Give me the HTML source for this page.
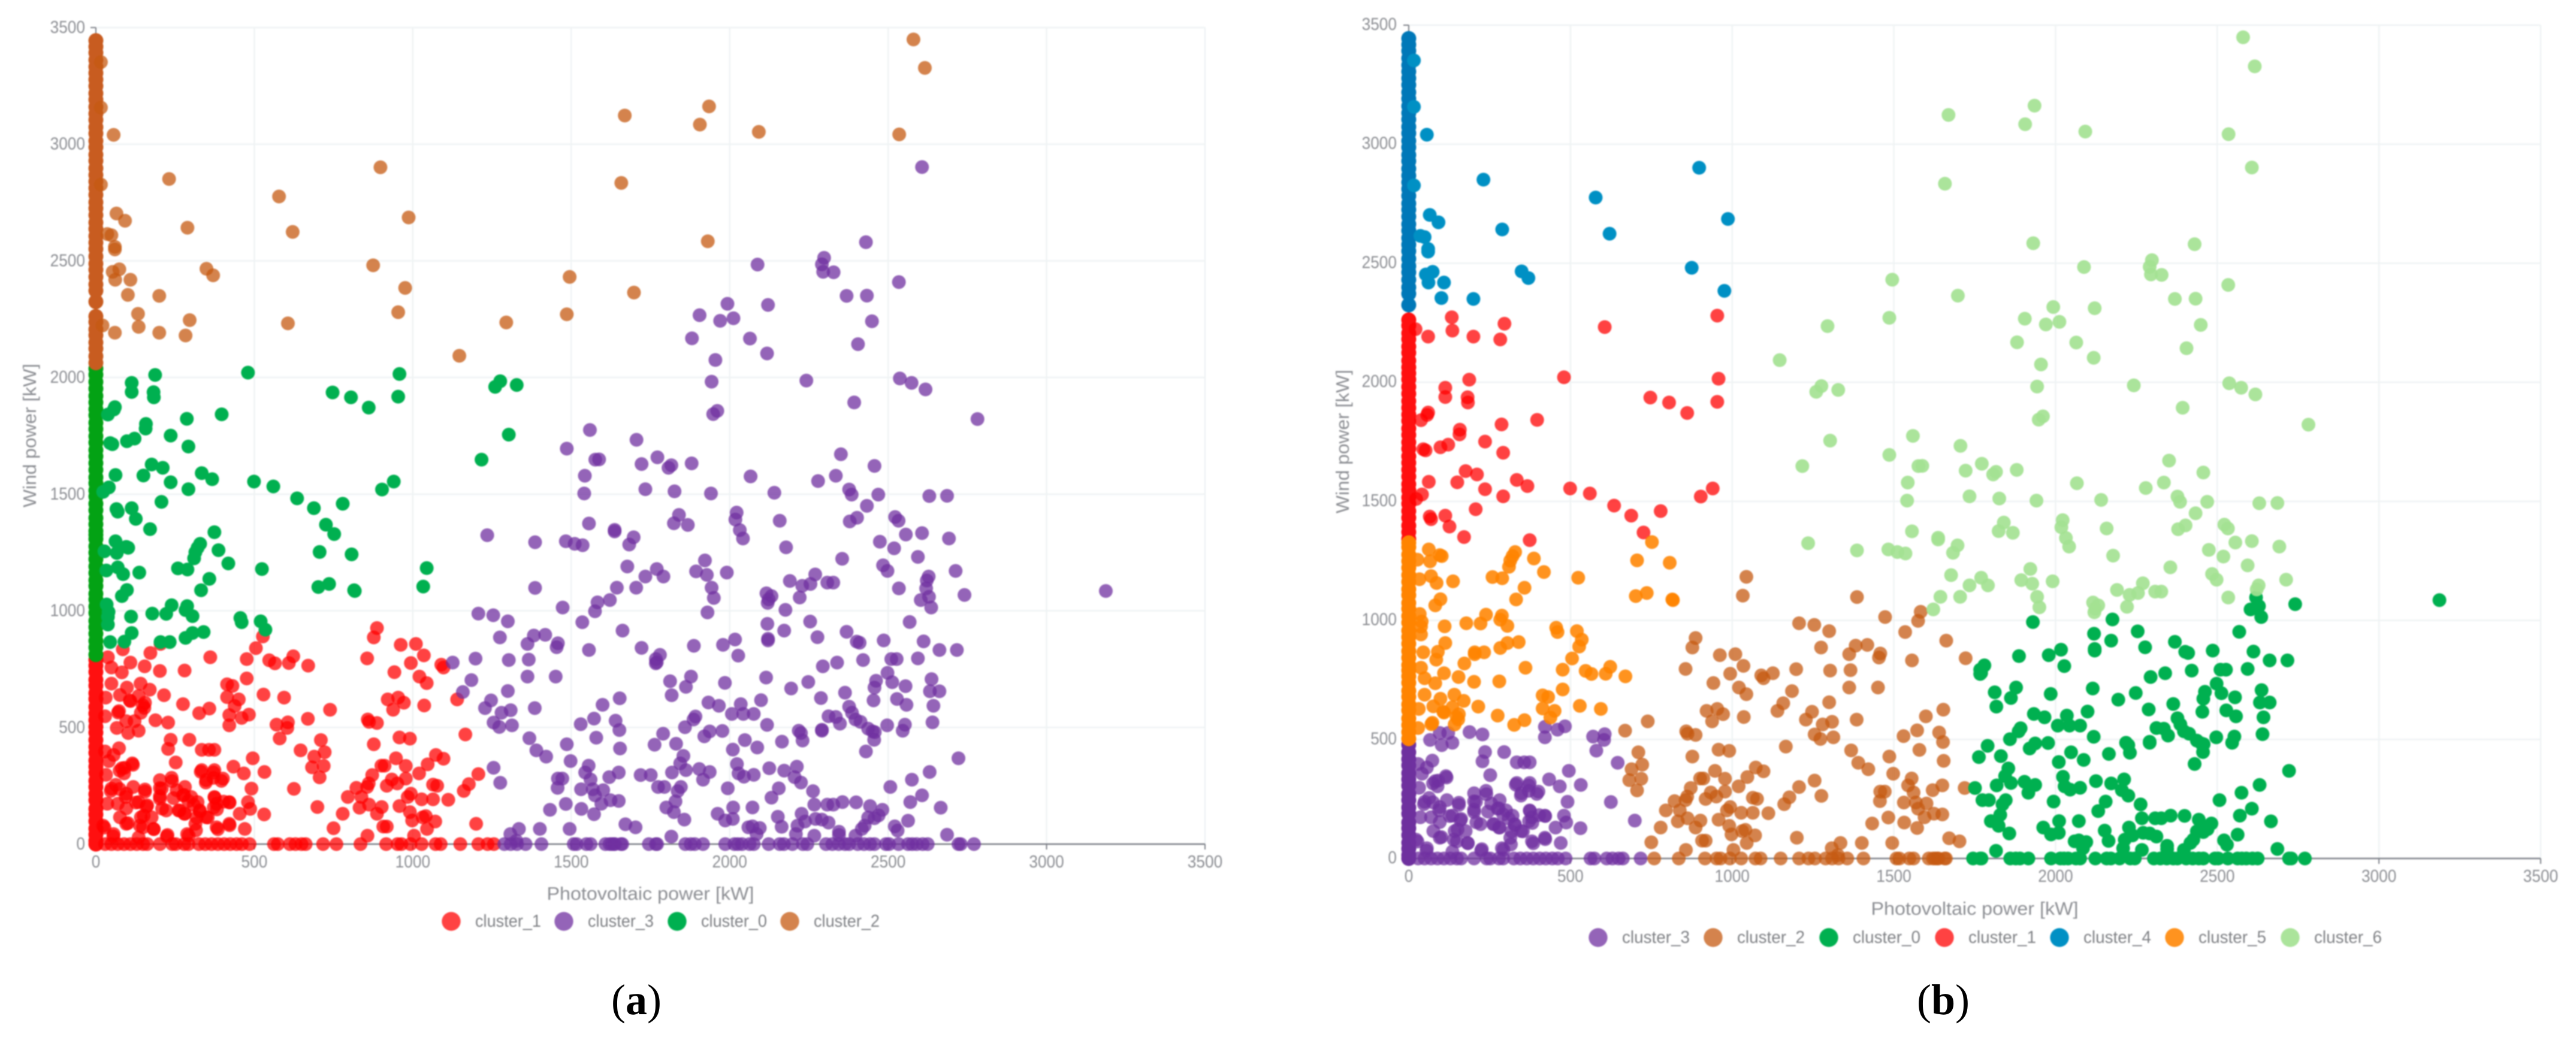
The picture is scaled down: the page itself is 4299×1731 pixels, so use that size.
<!DOCTYPE html>
<html lang="en">
<head>
<meta charset="utf-8">
<title>Cluster scatter plots: photovoltaic power vs wind power</title>
<style>
html,body{margin:0;padding:0;background:#fff;}
svg{display:block;}
text{font-family:"Liberation Sans",sans-serif;fill:#8d8f94;}
.caption{font-family:"Liberation Serif",serif;fill:#000;font-size:72px;}
</style>
</head>
<body>
<svg id="chart" xmlns="http://www.w3.org/2000/svg" width="4299" height="1731" viewBox="0 0 4299 1731">
<rect width="4299" height="1731" fill="#fff"/>
<g id="panelA" style="filter:blur(1px)"></g>
<g id="panelB" style="filter:blur(1px)"></g>
<text class="caption" x="1062" y="1693" text-anchor="middle">(<tspan font-weight="bold">a</tspan>)</text>
<text class="caption" x="3243" y="1693" text-anchor="middle">(<tspan font-weight="bold">b</tspan>)</text>
</svg>
<script>
// Tick labels
const xTicks = [0, 500, 1000, 1500, 2000, 2500, 3000, 3500];
const yTicks = [0, 500, 1000, 1500, 2000, 2500, 3000, 3500];

// Legend order per panel
const legendA = ['cluster_1', 'cluster_3', 'cluster_0', 'cluster_2'];
const legendB = ['cluster_3', 'cluster_2', 'cluster_0', 'cluster_1', 'cluster_4', 'cluster_5', 'cluster_6'];

// Points on the y axis (photovoltaic power = 0), wind power values
const stemLow = [0, 14, 41, 66, 98, 127, 151, 188, 214, 245, 271, 306, 332, 358, 391, 417, 446, 478];
const stemMidLow = [503, 531, 560, 588, 622, 647, 679, 704, 738, 765, 790];
const stemMid = [812, 843, 871, 902, 930, 957, 991, 1018, 1049, 1073, 1106, 1131, 1162, 1190, 1221, 1249, 1276, 1308, 1326];
const stemMidHigh = [1342, 1371, 1398, 1431, 1459, 1490, 1516, 1547, 1572, 1604, 1633, 1662, 1689, 1721, 1748, 1779, 1806, 1838, 1864, 1893, 1921, 1952, 1981, 2012, 2038];
const stemHigh = [2063, 2091, 2124, 2150, 2181, 2206, 2238, 2262];
const stemTop = [2325, 2372, 2399, 2431, 2462, 2488, 2519, 2551, 2578, 2606, 2637, 2664, 2696, 2725, 2751, 2783, 2812, 2840, 2868, 2897, 2929, 2955, 2987, 3014, 3046, 3073, 3104, 3131, 3160, 3191, 3218, 3249, 3277, 3305, 3332, 3361, 3392, 3418, 3444];

// Wind power vs photovoltaic power samples [pv, wind], grouped by cluster in (a) and (b)
const a1b3 = [[699,159],[625,237],[532,309],[495,368],[646,402],[570,512],[606,522],[604,498],[580,453],[236,447],[228,408],[295,447],[252,350],[334,404],[357,404],[374,404],[334,317],[374,317],[348,274],[401,281],[434,332],[467,303],[491,238],[73,411],[56,382],[29,397],[115,346],[82,325],[89,303],[202,274],[239,284],[208,238],[49,238],[96,216],[118,245],[155,234],[202,195],[255,231],[281,245],[275,209],[301,202],[321,180],[36,173],[69,173],[135,180],[162,166],[222,144],[261,144],[281,130],[328,144],[374,202],[381,173],[421,180],[480,180],[487,151],[454,130],[531,127],[76,115],[142,115],[96,87],[149,72],[182,65],[23,79],[314,87],[348,115],[381,72],[421,87],[470,65],[226,39],[56,43],[135,29],[288,43],[188,531],[228,521],[122,527],[96,527],[66,498],[135,486],[102,476],[421,509],[421,553],[460,541],[483,555],[41,356],[117,340],[91,327],[75,315],[32,297],[63,254],[47,228],[75,236],[94,202],[155,225],[240,270],[202,240],[202,205],[331,310],[371,307],[347,264],[396,271],[371,284],[245,197],[278,211],[292,185],[309,168],[209,152],[264,144],[279,130],[96,153],[127,178],[160,161],[101,90],[151,122],[176,115],[183,64],[139,79],[318,114],[328,140],[316,59],[353,114],[375,199],[422,178],[382,149],[385,64],[422,81],[372,157],[403,182],[224,33],[293,37],[55,33],[27,71],[29,0],[49,0],[69,0],[89,0],[109,0],[129,0],[149,0],[162,0],[202,0],[241,0],[252,0],[279,0],[292,0],[325,0],[345,0],[365,0],[385,0],[405,0],[424,0],[444,0],[461,0],[485,0],[562,0],[574,0],[612,0],[630,0],[649,0],[662,0],[717,0]];
const a1b5 = [[527,890],[505,840],[476,793],[547,788],[565,775],[623,805],[609,776],[670,765],[361,801],[280,744],[202,742],[154,762],[172,819],[204,858],[109,778],[85,835],[38,801],[49,757],[82,736],[49,688],[141,688],[170,662],[98,671],[215,638],[135,635],[76,639],[109,613],[155,606],[275,600],[153,584],[142,563],[73,570],[29,548],[326,561],[358,581],[414,685],[431,678],[414,630],[451,620],[438,592],[476,710],[529,641],[594,628],[31,628],[107,616],[148,595],[70,564]];
const a1b2 = [[887,926],[877,886],[856,796],[962,854],[1010,858],[1035,809],[994,776],[942,737],[1021,718],[1044,690],[1090,769],[1097,757],[921,620],[954,628],[972,606],[938,576],[1036,594],[1140,620],[858,534],[862,524],[887,519],[1166,470],[958,457],[991,452],[877,428],[1073,382],[1097,366],[1047,342],[947,368],[978,335],[901,336],[911,336],[872,296],[1020,303],[1207,300],[934,277],[978,281],[822,241],[856,245],[861,260],[1177,257],[1161,228],[918,250],[951,260],[1064,255],[1077,250],[994,216],[984,202],[1028,192],[1064,192],[1112,190],[795,202],[838,202],[832,156],[862,169],[902,159],[958,163],[779,130],[887,130],[991,137],[998,101],[1031,115],[1041,120],[1071,97],[1045,65],[907,75],[918,75],[1200,87],[750,68],[857,36],[1004,36],[710,446],[722,394],[689,375],[719,335],[682,329],[706,286],[739,576],[669,537],[759,0],[835,0],[916,0],[952,0],[964,0],[993,0],[1028,0],[1072,0],[1088,0],[1150,0],[1207,0],[1236,0],[1256,0]];
const a3b2 = [[1575,998],[1583,1036],[1473,1014],[1535,951],[1207,988],[1254,981],[1300,955],[1662,915],[1275,886],[1382,894],[1418,897],[1362,858],[1458,861],[1454,844],[1556,832],[1722,841],[1386,1098],[1126,778],[1198,795],[1303,789],[1366,791],[1362,718],[1451,718],[1185,703],[1158,652],[1300,656],[1247,616],[1228,583],[1385,583],[1309,574],[1280,563],[1599,597],[1653,625],[1572,538],[1640,529],[1530,514],[1255,521],[1273,502],[1313,509],[1652,489],[1368,454],[1579,456],[1486,428],[1390,402],[1654,410],[1421,375],[1498,356],[1255,327],[1555,336],[1544,307],[1620,287],[1650,307],[1719,296],[1276,263],[1458,281],[1472,281],[1561,277],[1457,241],[1531,235],[1568,235],[1601,231],[1575,209],[1595,173],[1624,188],[1650,185],[1433,147],[1483,172],[1532,151],[1572,128],[1671,85],[1703,72],[1335,65],[1308,43],[1401,65],[1495,65],[1327,14],[1289,0],[1309,0],[1329,0],[1356,0],[1406,0],[1508,0],[1517,0],[1548,0],[1561,0],[1608,0],[1621,0],[1628,0],[1634,0],[1638,0],[1657,0],[1661,0]];
const a3b0 = [[1763,426],[1751,296],[1767,793],[1767,775],[1774,245],[2603,1046],[2620,1096],[2629,1060],[2636,1014],[2741,1068],[3187,1085],[1930,993],[1780,811],[1770,779],[1887,850],[1979,854],[2017,877],[2027,808],[2176,1004],[2254,954],[2119,944],[2172,915],[2121,880],[2121,873],[2277,887],[2369,910],[2401,868],[2410,863],[2486,873],[2568,952],[2612,869],[2662,832],[2717,832],[2594,796],[2510,793],[2527,793],[2421,789],[2339,778],[2294,762],[1812,698],[1878,718],[1862,674],[1817,638],[1985,691],[2115,714],[2248,695],[2194,667],[2288,626],[2364,649],[2498,734],[2513,694],[2555,677],[2462,700],[2457,671],[2637,707],[2632,655],[2662,655],[2528,622],[2454,616],[2558,597],[2643,593],[2640,522],[2099,617],[1933,607],[1966,593],[2035,600],[2007,558],[2043,558],[2076,558],[2377,589],[2386,563],[2312,548],[2335,545],[2348,516],[2397,534],[2413,524],[2437,495],[2451,483],[2458,480],[2456,447],[2497,509],[2553,512],[2546,486],[1892,547],[1886,534],[1859,501],[1937,483],[1920,462],[1977,485],[2118,511],[2218,486],[2225,476],[2291,490],[2291,486],[2430,397],[1790,473],[1831,430],[2048,446],[2010,405],[2087,414],[2165,439],[2230,444],[2722,368],[1854,378],[1844,346],[1862,317],[1818,307],[1904,322],[1937,309],[1916,276],[2023,343],[2028,303],[2045,289],[2076,297],[2125,325],[2172,315],[2212,332],[2205,287],[2225,264],[2631,309],[2575,276],[2507,245],[1794,245],[1846,245],[1836,227],[1994,239],[2155,239],[2132,199],[2263,227],[2607,209],[1829,183],[1800,157],[1824,137],[1857,105],[2011,157],[2072,157],[1962,130],[1986,101],[2010,108],[2152,117],[2164,74],[2267,169],[2308,169],[2327,169],[2356,180],[2399,179],[2443,163],[2482,147],[2570,180],[2666,156],[2563,100],[2227,130],[2238,97],[2271,108],[2291,105],[2312,92],[2437,114],[2457,111],[2470,123],[2426,79],[2417,65],[2214,79],[2209,43],[2267,36],[2345,53],[2345,39],[2397,36],[2521,76],[2530,58],[2686,40],[2059,72],[2072,76],[2095,69],[2085,43],[1816,32],[1745,0],[1767,0],[1771,0],[1860,0],[1877,0],[1890,0],[1916,0],[1986,0],[2015,0],[2026,0],[2039,0],[2063,0],[2076,0],[2123,0],[2158,0],[2171,0],[2198,0],[2231,0],[2245,0],[2304,0],[2324,0],[2344,0],[2364,0],[2377,0],[2404,0],[2424,0],[2443,0],[2457,0],[2493,0],[2503,0],[2533,0],[2563,0],[2576,0],[2590,0],[2609,0],[2625,0],[2722,0],[2729,0],[2771,0]];
const a3b6 = [[2607,2902],[2430,2580],[2298,2513],[2291,2485],[2295,2453],[2328,2451],[2088,2484],[2534,2409],[2369,2350],[2433,2351],[1993,2316],[2121,2311],[1905,2267],[1970,2243],[2012,2254],[2449,2241],[1881,2168],[2064,2167],[2405,2143],[2118,2103],[1955,2075],[1943,1982],[2242,1987],[2537,1996],[2574,1977],[2618,1949],[2393,1893],[1961,1857],[1948,1843],[2782,1822],[1706,1733],[1772,1658],[1722,1629],[1816,1624],[1807,1613],[1880,1632],[1588,1649],[1734,1521],[1826,1512],[1941,1503],[2066,1576],[2141,1506],[2279,1556],[2335,1579],[2351,1671],[2457,1621],[2377,1520],[2385,1498],[2469,1498],[2630,1492],[2686,1493],[2433,1450],[1840,1411],[1824,1375],[1868,1368],[2022,1421],[2018,1391],[2158,1386],[2402,1399],[2379,1383],[2522,1402],[2533,1386],[1559,1775],[1486,1695],[1576,1648],[1543,1579],[1541,1503],[1556,1374],[1637,1347],[1637,1340],[1697,1315],[1683,1284],[1235,1324],[1386,1294],[1483,1298],[1511,1287],[1536,1281],[1677,1190],[1734,1147],[1770,1179],[1644,1099],[1705,1099],[1622,1046],[2032,1346],[2042,1310],[2178,1272],[2556,1327],[2607,1333],[2692,1310],[2474,1296],[2519,1268],[2594,1231],[2355,1223],[2713,1171],[2484,1195],[2498,1171],[1791,1147],[1922,1216],[1894,1169],[1928,1154],[1991,1164],[1943,1099],[1950,1055],[2116,1075],[2132,1063],[2123,1049],[2120,1034],[2190,1128],[2229,1107],[2255,1115],[2270,1156],[2308,1121],[2327,1121],[2221,1057],[2534,1096],[2622,1130],[2628,1147]];
const a0b5 = [[752,1329],[62,1298],[66,1248],[96,1274],[102,1270],[27,1255],[69,1186],[86,1157],[33,1173],[137,1164],[329,1287],[321,1270],[314,1251],[310,1225],[387,1260],[418,1203],[259,1182],[289,1177],[358,1137],[332,1088],[524,1179],[706,1252],[807,1242],[702,1102],[736,1115],[815,1088],[817,1085],[98,1089],[82,1063],[34,1027],[40,995],[38,974],[38,941],[111,975],[178,988],[222,987],[239,1024],[288,1020],[283,1003],[305,977],[456,969],[460,951],[520,955],[535,919],[113,905],[90,868],[45,866],[204,866],[233,866],[340,909],[305,905],[283,884]];
const a0b1 = [[187,2011],[480,2021],[958,2015],[954,1918],[747,1936],[805,1915],[861,1871],[113,1977],[113,1938],[182,1937],[183,1915],[60,1873],[57,1863],[38,1841],[287,1823],[397,1842],[158,1801],[157,1781],[236,1751],[292,1704],[122,1738],[98,1727],[45,1719],[52,1714],[176,1627],[211,1613],[62,1582],[150,1580],[236,1551],[334,1590],[367,1564],[499,1554],[560,1533],[292,1521],[41,1529],[23,1510],[940,1554],[903,1520],[635,1482],[688,1440],[779,1459],[207,1467],[113,1440],[65,1436],[69,1425],[126,1394],[171,1350],[374,1337],[726,1369]];
const a0b6 = [[1276,1984],[1260,1960],[1328,1968],[1303,1755],[1217,1648]];
const a0b2 = [[1044,1183],[1033,1104]];
const a2b4 = [[16,3352],[16,3157],[56,3040],[16,2827],[231,2851],[578,2776],[898,2901],[987,2686],[621,2624],[289,2642],[65,2703],[92,2672],[36,2615],[49,2610],[60,2560],[60,2549],[74,2464],[53,2453],[61,2419],[109,2419],[349,2466],[370,2438],[875,2481],[976,2384],[101,2354],[200,2350]];
const a2b1 = [[954,2280],[133,2273],[296,2246],[606,2232],[135,2217],[21,2223],[60,2192],[200,2192],[283,2180]];
const a2b6 = [[1147,2093],[1295,2236],[1486,2271],[1495,2431],[1658,2834],[1669,3123],[1698,2364],[1935,3162],[1906,3084],[2092,3053],[2535,3042],[2580,3449],[2616,3327],[1931,2584]];

// Series membership in each panel (draw order follows the legend)
const pointsA = {
  cluster_1: [a1b3, a1b5, a1b2],
  cluster_3: [a3b2, a3b0, a3b6],
  cluster_0: [a0b5, a0b1, a0b6, a0b2],
  cluster_2: [a2b4, a2b1, a2b6]
};
const stemsA = {
  cluster_1: [stemLow, stemMidLow],
  cluster_3: [],
  cluster_0: [stemMid, stemMidHigh],
  cluster_2: [stemHigh, stemTop]
};
const pointsB = {
  cluster_3: [a1b3],
  cluster_2: [a1b2, a3b2, a0b2],
  cluster_0: [a3b0],
  cluster_1: [a0b1, a2b1],
  cluster_4: [a2b4],
  cluster_5: [a1b5, a0b5],
  cluster_6: [a3b6, a0b6, a2b6]
};
const stemsB = {
  cluster_3: [stemLow],
  cluster_2: [],
  cluster_0: [],
  cluster_1: [stemMidHigh, stemHigh],
  cluster_4: [stemTop],
  cluster_5: [stemMidLow, stemMid],
  cluster_6: []
};

// Visual styles, kept apart from the data
const clusterFill = {cluster_0:'#00b050', cluster_1:'#ff0000', cluster_2:'#c55a11', cluster_3:'#7030a0', cluster_4:'#0090c4', cluster_5:'#ff8400', cluster_6:'#a4e292'};
const clusterOpacity = {cluster_0:1, cluster_1:0.74, cluster_2:0.75, cluster_3:0.75, cluster_4:1, cluster_5:0.88, cluster_6:0.92};
const stemFill = {cluster_0:'#03a214', cluster_1:'#ff1010', cluster_2:'#c85c20', cluster_3:'#6e309e', cluster_4:'#0078b8', cluster_5:'#ff8400', cluster_6:'#a4e292'};

const layoutA = {group:'panelA', x0:160, x1:2011, y0:1409, y1:46, yLabelX:142, yTickDy:9, xLabelY:1448, xTitleY:1502, yTitleX:60, yTitleMid:727, legendY:1538, legendTextW:110,
  legendDots:[753, 941, 1130, 1318]};
const layoutB = {group:'panelB', x0:2351, x1:4240, y0:1433, y1:42, yLabelX:2331, yTickDy:8, xLabelY:1472, xTitleY:1527, yTitleX:2251, yTitleMid:737, legendY:1565, legendTextW:113,
  legendDots:[2667, 2859, 3052, 3245, 3437, 3629, 3822]};

const NS = 'http://www.w3.org/2000/svg';
const DOT_R = 11.5;
const STEM_R = 12.5;

function make(parent, tag, attrs, txt) {
  const el = document.createElementNS(NS, tag);
  for (const k in attrs) el.setAttribute(k, attrs[k]);
  if (txt !== undefined) el.textContent = txt;
  parent.appendChild(el);
  return el;
}

function drawPanel(layout, legend, points, stems) {
  const root = document.getElementById(layout.group);
  const xMax = xTicks[xTicks.length - 1];
  const yMax = yTicks[yTicks.length - 1];
  const sx = v => layout.x0 + (layout.x1 - layout.x0) * v / xMax;
  const sy = v => layout.y0 + (layout.y1 - layout.y0) * v / yMax;

  // Grid
  xTicks.forEach(t => {
    if (t === 0) return;
    const el = make(root, 'line', {x1:sx(t), x2:sx(t), y1:sy(yMax), y2:sy(0), stroke:'#eff3f4', 'stroke-width':2.5});
    
    
  });
  yTicks.forEach(t => {
    if (t === 0) return;
    const el = make(root, 'line', {x1:sx(0), x2:sx(xMax), y1:sy(t), y2:sy(t), stroke:'#eff3f4', 'stroke-width':2.5});
    
    
  });

  // Axes
  const xAxis = make(root, 'line', {x1:sx(0), x2:sx(xMax), y1:sy(0), y2:sy(0), stroke:'#7d8088', 'stroke-width':2.5});
  
  
  const yAxis = make(root, 'line', {x1:sx(0), x2:sx(0), y1:sy(0), y2:sy(yMax), stroke:'#7d8088', 'stroke-width':2});
  
  

  xTicks.forEach(t => {
    const tick = make(root, 'line', {x1:sx(t), x2:sx(t), y1:sy(0), y2:sy(0) + 9, stroke:'#7d8088', 'stroke-width':2});
    
    
    const s = String(t);
    const label = make(root, 'text', {x:sx(t), y:layout.xLabelY, 'text-anchor':'middle', 'font-size':29, textLength:s.length * 14.6, lengthAdjust:'spacingAndGlyphs'}, s);
    
    
  });
  yTicks.forEach(t => {
    const tick = make(root, 'line', {x1:sx(0) - 9, x2:sx(0), y1:sy(t), y2:sy(t), stroke:'#7d8088', 'stroke-width':2});
    
    
    const s = String(t);
    const label = make(root, 'text', {x:layout.yLabelX, y:sy(t) + layout.yTickDy, 'text-anchor':'end', 'font-size':29, textLength:s.length * 14.6, lengthAdjust:'spacingAndGlyphs'}, s);
    
    
  });

  const xTitle = make(root, 'text', {x:(layout.x0 + layout.x1) / 2, y:layout.xTitleY, 'text-anchor':'middle', 'font-size':31, textLength:346, lengthAdjust:'spacingAndGlyphs'}, 'Photovoltaic power [kW]');
  
  
  const yTitle = make(root, 'text', {x:0, y:0, 'text-anchor':'middle', 'font-size':31, textLength:240, lengthAdjust:'spacingAndGlyphs', transform:'translate(' + layout.yTitleX + ',' + layout.yTitleMid + ') rotate(-90)'}, 'Wind power [kW]');
  
  

  // Series
  legend.forEach((name, i) => {
    const series = make(root, 'g', {});
    
    
    stems[name].forEach(list => list.forEach(v => {
      const dot = make(series, 'circle', {cx:sx(0), cy:sy(v), r:STEM_R, fill:stemFill[name]});
      
      
    }));
    points[name].forEach(list => list.forEach(p => {
      const dot = make(series, 'circle', {cx:sx(p[0]), cy:sy(p[1]), r:DOT_R, fill:clusterFill[name], 'fill-opacity':clusterOpacity[name]});
      
      
    }));

    // Legend entry
    const entry = make(root, 'g', {});
    
    
    const cx = layout.legendDots[i];
    make(entry, 'circle', {cx:cx, cy:layout.legendY, r:15.7, fill:clusterFill[name], 'fill-opacity':clusterOpacity[name]});
    make(entry, 'text', {x:cx + 40, y:layout.legendY + 9, 'font-size':29, fill:'#808286', style:'fill:#808286', textLength:layout.legendTextW, lengthAdjust:'spacingAndGlyphs'}, name);
  });
}

drawPanel(layoutA, legendA, pointsA, stemsA);
drawPanel(layoutB, legendB, pointsB, stemsB);
</script>
</body>
</html>
